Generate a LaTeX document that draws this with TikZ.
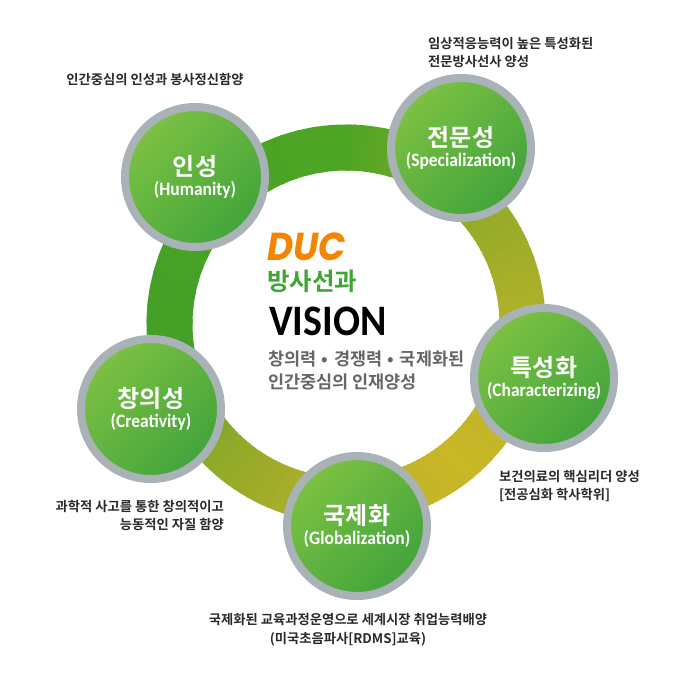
\documentclass[tikz,border=0pt]{standalone}
\usepackage{fontspec}
\setmainfont{Noto Sans CJK KR}[BoldFont={* Bold}]
\newfontfamily\latinfont{Carlito}[FakeStretch=0.92]
\newfontfamily\ducfont{Poppins}[FakeStretch=0.92]
\definecolor{hubrim}{HTML}{A8B2B7}
\definecolor{hublight}{HTML}{7CC143}
\definecolor{hubdark}{HTML}{42A43B}
\definecolor{goaltext}{HTML}{2A2A2A}
\definecolor{ducorange}{HTML}{F58400}
\definecolor{deptgreen}{HTML}{3FA535}
\definecolor{slogan}{HTML}{666666}
\definecolor{ringa}{HTML}{4FA525}
\definecolor{ringb}{HTML}{8FAB28}
\definecolor{ringc}{HTML}{B5B12A}
\definecolor{ringd}{HTML}{C9B827}
\definecolor{ringe}{HTML}{BAB02A}
\definecolor{ringf}{HTML}{8DA929}
\definecolor{ringg}{HTML}{43A026}
\tikzset{
  hub/.style={circle, draw=hubrim, line width=8pt, minimum size=140pt, inner sep=0pt, align=center,
    text=white, top color=hublight, bottom color=hubdark, shading angle=45},
  goal/.style={inner sep=0pt, font=\fontsize{13.3}{18}\selectfont\bfseries, text=goaltext},
  centre/.style={inner sep=0pt, anchor=west}
}
\begin{document}
\begin{tikzpicture}[x=1pt, y=-1pt]
\useasboundingbox (0,0) rectangle (700,700);

% ring
\foreach \from/\to/\ca/\cb in {-190/-90/ringg/ringa, -90/-45/ringa/ringb, -45/0/ringb/ringc, 0/50/ringc/ringd,
    50/90/ringd/ringe, 90/135/ringe/ringf, 135/170/ringf/ringg}
  \foreach \s in {0,...,19} {
    \pgfmathsetmacro\ang{\from+\s*(\to-\from)/20}
    \pgfmathsetmacro\angend{\ang+(\to-\from)/15}
    \pgfmathtruncatemacro\pct{\s*5}
    \draw[line width=46pt, color=\cb!\pct!\ca] ({346+176.5*cos(\ang)}, {324+176.5*sin(\ang)})
      arc[start angle=-\ang, end angle=-\angend, radius=176.5pt];
  }

% circles
\foreach \x/\y/\name/\ko/\en in {195/177/humanity/인성/Humanity, 461/148/special/전문성/Specialization,
    544/378/charac/특성화/Characterizing, 357/526/global/국제화/Globalization, 151/409/creative/창의성/Creativity}
  \node[hub] (h\name) at (\x,\y)
    {{\fontsize{24}{26}\selectfont\bfseries \ko}\\[3pt]{\latinfont\fontsize{19}{20}\selectfont\bfseries (\en)}};

% goals
\node[goal] (ghumanity) at (155,79) {인간중심의 인성과 봉사정신함양};
\node[goal, align=left, anchor=west] (gspecial) at (428,52.5) {임상적응능력이 높은 특성화된\\전문방사선사 양성};
\node[goal, align=left, anchor=west] (gcharac) at (499,486.5) {보건의료의 핵심리더 양성\\{[}전공심화 학사학위{]}};
\node[goal, align=center] (gglobal) at (348,630) {국제화된 교육과정운영으로 세계시장 취업능력배양\\[1pt](미국초음파사[RDMS]교육)};
\node[goal, align=right, anchor=east] (gcreative) at (224,515.5) {과학적 사고를 통한 창의적이고\\능동적인 자질 함양};

% centre
\node[centre, text=ducorange, font=\fontsize{39}{40}\selectfont\ducfont\bfseries\itshape] (duc) at (267,247) {DUC};
\node[centre, text=deptgreen, font=\fontsize{24.5}{26}\selectfont\bfseries] (dept) at (267,281.5) {방사선과};
\node[centre, font=\fontsize{43.5}{44}\selectfont\latinfont\bfseries] (vision) at (269,321) {VISION};
\node[centre, align=left, text=slogan, font=\fontsize{17.5}{23}\selectfont\bfseries] (motto) at (268,370) {창의력\kern1.5pt{} • \kern1.5pt{}경쟁력\kern1.5pt{} • \kern1.5pt{}국제화된\\인간중심의 인재양성};
\end{tikzpicture}
\end{document}
